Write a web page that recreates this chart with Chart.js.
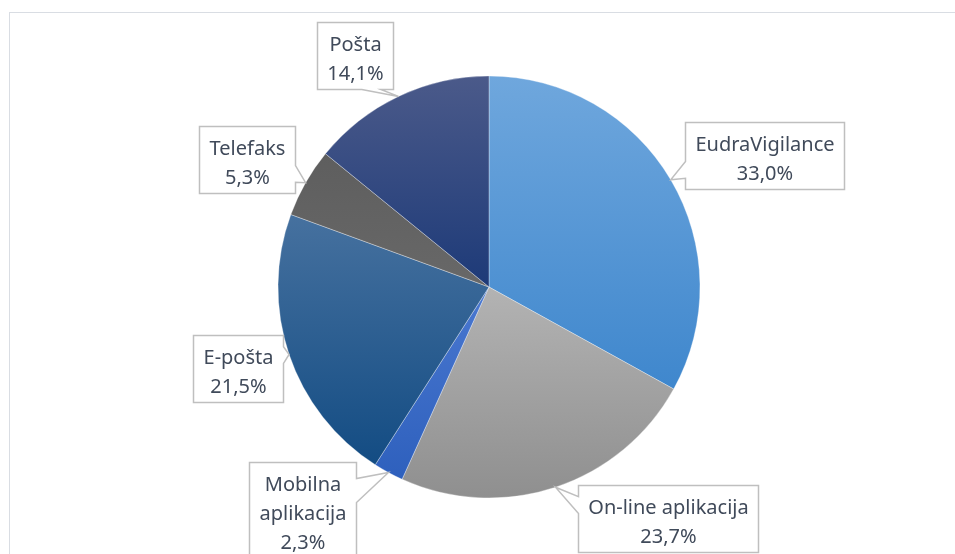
<!DOCTYPE html>
<html><head><meta charset="utf-8">
<style>html,body{margin:0;padding:0;background:#fff}#wrap{width:955px;height:554px;position:relative}</style>
<script src="https://cdn.jsdelivr.net/npm/chart.js@4/dist/chart.umd.min.js"></script>
</head><body><div id="wrap"><canvas id="c" width="955" height="554"></canvas></div>
<script>
const categories = ['EudraVigilance', 'On-line aplikacija', 'Mobilna aplikacija', 'E-pošta', 'Telefaks', 'Pošta'];
const values = [33.0, 23.7, 2.3, 21.5, 5.3, 14.1];
const labelLines = [['EudraVigilance'], ['On-line aplikacija'], ['Mobilna', 'aplikacija'], ['E-pošta'], ['Telefaks'], ['Pošta']];
const topColors = ['#6fa7dd', '#b3b3b3', '#4a78d0', '#46719f', '#5e5e5e', '#4b5a8a'];
const bottomColors = ['#3f87cd', '#8f8f8f', '#2e60bd', '#134c83', '#686868', '#1d3a78'];
// label box centre offsets from the pie centre (layout only)
const labelOffsets = [[275, -131.5], [178.5, 231.5], [-187, 222.5], [-251.5, 81.5], [-242, -127.5], [-134, -232]];

const PIE_R = 211;
const fmt = v => v.toFixed(1).replace('.', ',') + '%';

function sliceGradient(ctx) {
  const chart = ctx.chart;
  const i = ctx.dataIndex;
  if (ctx.type !== 'data' || i === undefined) return topColors[0];
  const a = chart.chartArea;
  if (!a) return topColors[i];
  const cx = (a.left + a.right) / 2, cy = (a.top + a.bottom) / 2, r = PIE_R;
  const total = values.reduce((s, v) => s + v, 0);
  const before = values.slice(0, i).reduce((s, v) => s + v, 0);
  const s = -Math.PI / 2 + before / total * 2 * Math.PI;
  const e = s + values[i] / total * 2 * Math.PI;
  const ys = [cy, cy + r * Math.sin(s), cy + r * Math.sin(e)];
  for (let k = -2; k <= 3; k++) {
    const ang = Math.PI / 2 + k * Math.PI;
    if (ang > s && ang < e) ys.push(cy + r * Math.sin(ang));
  }
  const y0 = Math.min(...ys), y1 = Math.max(...ys);
  const g = chart.ctx.createLinearGradient(0, y0, 0, y1 + 0.01);
  g.addColorStop(0, topColors[i]);
  g.addColorStop(1, bottomColors[i]);
  return g;
}

const framePlugin = {
  id: 'frame',
  beforeDraw(chart) {
    const c = chart.ctx;
    c.save();
    c.fillStyle = '#fff';
    c.fillRect(0, 0, chart.width, chart.height);
    c.strokeStyle = '#d9dde3';
    c.lineWidth = 1;
    c.strokeRect(9.5, 12.5, 1000, 700);
    c.restore();
  }
};

function calloutPath(c, bx, by, w, h, tx, ty) {
  const dx = tx - (bx + w / 2), dy = ty - (by + h / 2);
  const dq = dx * h / w;
  const dz = Math.abs(dy) - Math.abs(dq);
  c.beginPath();
  if (dz > 0) {
    const g1 = dx > 0 ? 7 : 2, g2 = dx > 0 ? 10 : 5;
    const x1 = bx + w * g1 / 12, x2 = bx + w * g2 / 12;
    if (dy < 0) {
      c.moveTo(bx, by); c.lineTo(x1, by); c.lineTo(tx, ty); c.lineTo(x2, by);
      c.lineTo(bx + w, by); c.lineTo(bx + w, by + h); c.lineTo(bx, by + h);
    } else {
      c.moveTo(bx, by); c.lineTo(bx + w, by); c.lineTo(bx + w, by + h);
      c.lineTo(x2, by + h); c.lineTo(tx, ty); c.lineTo(x1, by + h); c.lineTo(bx, by + h);
    }
  } else {
    const g1 = dy > 0 ? 7 : 2, g2 = dy > 0 ? 10 : 5;
    const y1 = by + h * g1 / 12, y2 = by + h * g2 / 12;
    if (dx < 0) {
      c.moveTo(bx, by); c.lineTo(bx + w, by); c.lineTo(bx + w, by + h); c.lineTo(bx, by + h);
      c.lineTo(bx, y2); c.lineTo(tx, ty); c.lineTo(bx, y1);
    } else {
      c.moveTo(bx, by); c.lineTo(bx + w, by); c.lineTo(bx + w, y1); c.lineTo(tx, ty);
      c.lineTo(bx + w, y2); c.lineTo(bx + w, by + h); c.lineTo(bx, by + h);
    }
  }
  c.closePath();
}

const calloutPlugin = {
  id: 'callouts',
  afterDatasetsDraw(chart) {
    const c = chart.ctx;
    const meta = chart.getDatasetMeta(0);
    const ds = chart.data.datasets[0].data;
    c.save();
    c.font = '20px "Noto Sans"';
    meta.data.forEach((arc, i) => {
      const p = arc.getProps(['x', 'y', 'startAngle', 'endAngle', 'outerRadius'], true);
      const mid = (p.startAngle + p.endAngle) / 2;
      const tx = p.x + Math.cos(mid) * p.outerRadius;
      const ty = p.y + Math.sin(mid) * p.outerRadius;
      const lines = labelLines[i].concat([fmt(ds[i])]);
      const tw = Math.max(...lines.map(l => c.measureText(l).width));
      const w = Math.round(tw + 20), h = lines.length * 29 + 9;
      const bx = Math.round(p.x + labelOffsets[i][0] - w / 2) + 0.5;
      const by = Math.round(p.y + labelOffsets[i][1] - h / 2) + 0.5;
      calloutPath(c, bx, by, w, h, tx, ty);
      c.fillStyle = '#ffffff';
      c.fill();
      c.strokeStyle = '#bfbfbf';
      c.lineWidth = 1.5;
      c.lineJoin = 'miter';
      c.stroke();
      c.fillStyle = '#404a5a';
      c.textAlign = 'center';
      c.textBaseline = 'alphabetic';
      lines.forEach((l, k) => c.fillText(l, bx + w / 2, by + 28 + k * 29));
    });
    c.restore();
  }
};

new Chart(document.getElementById('c'), {
  type: 'pie',
  data: {
    labels: categories,
    datasets: [{
      data: values,
      backgroundColor: sliceGradient,
      borderColor: 'rgba(255,255,255,0.55)',
      borderWidth: 0.6
    }]
  },
  options: {
    responsive: false,
    animation: false,
    radius: PIE_R,
    layout: { padding: { left: 23, right: 0, top: 20, bottom: 0 } },
    plugins: { legend: { display: false }, tooltip: { enabled: false } }
  },
  plugins: [framePlugin, calloutPlugin]
});
</script>
</body></html>
